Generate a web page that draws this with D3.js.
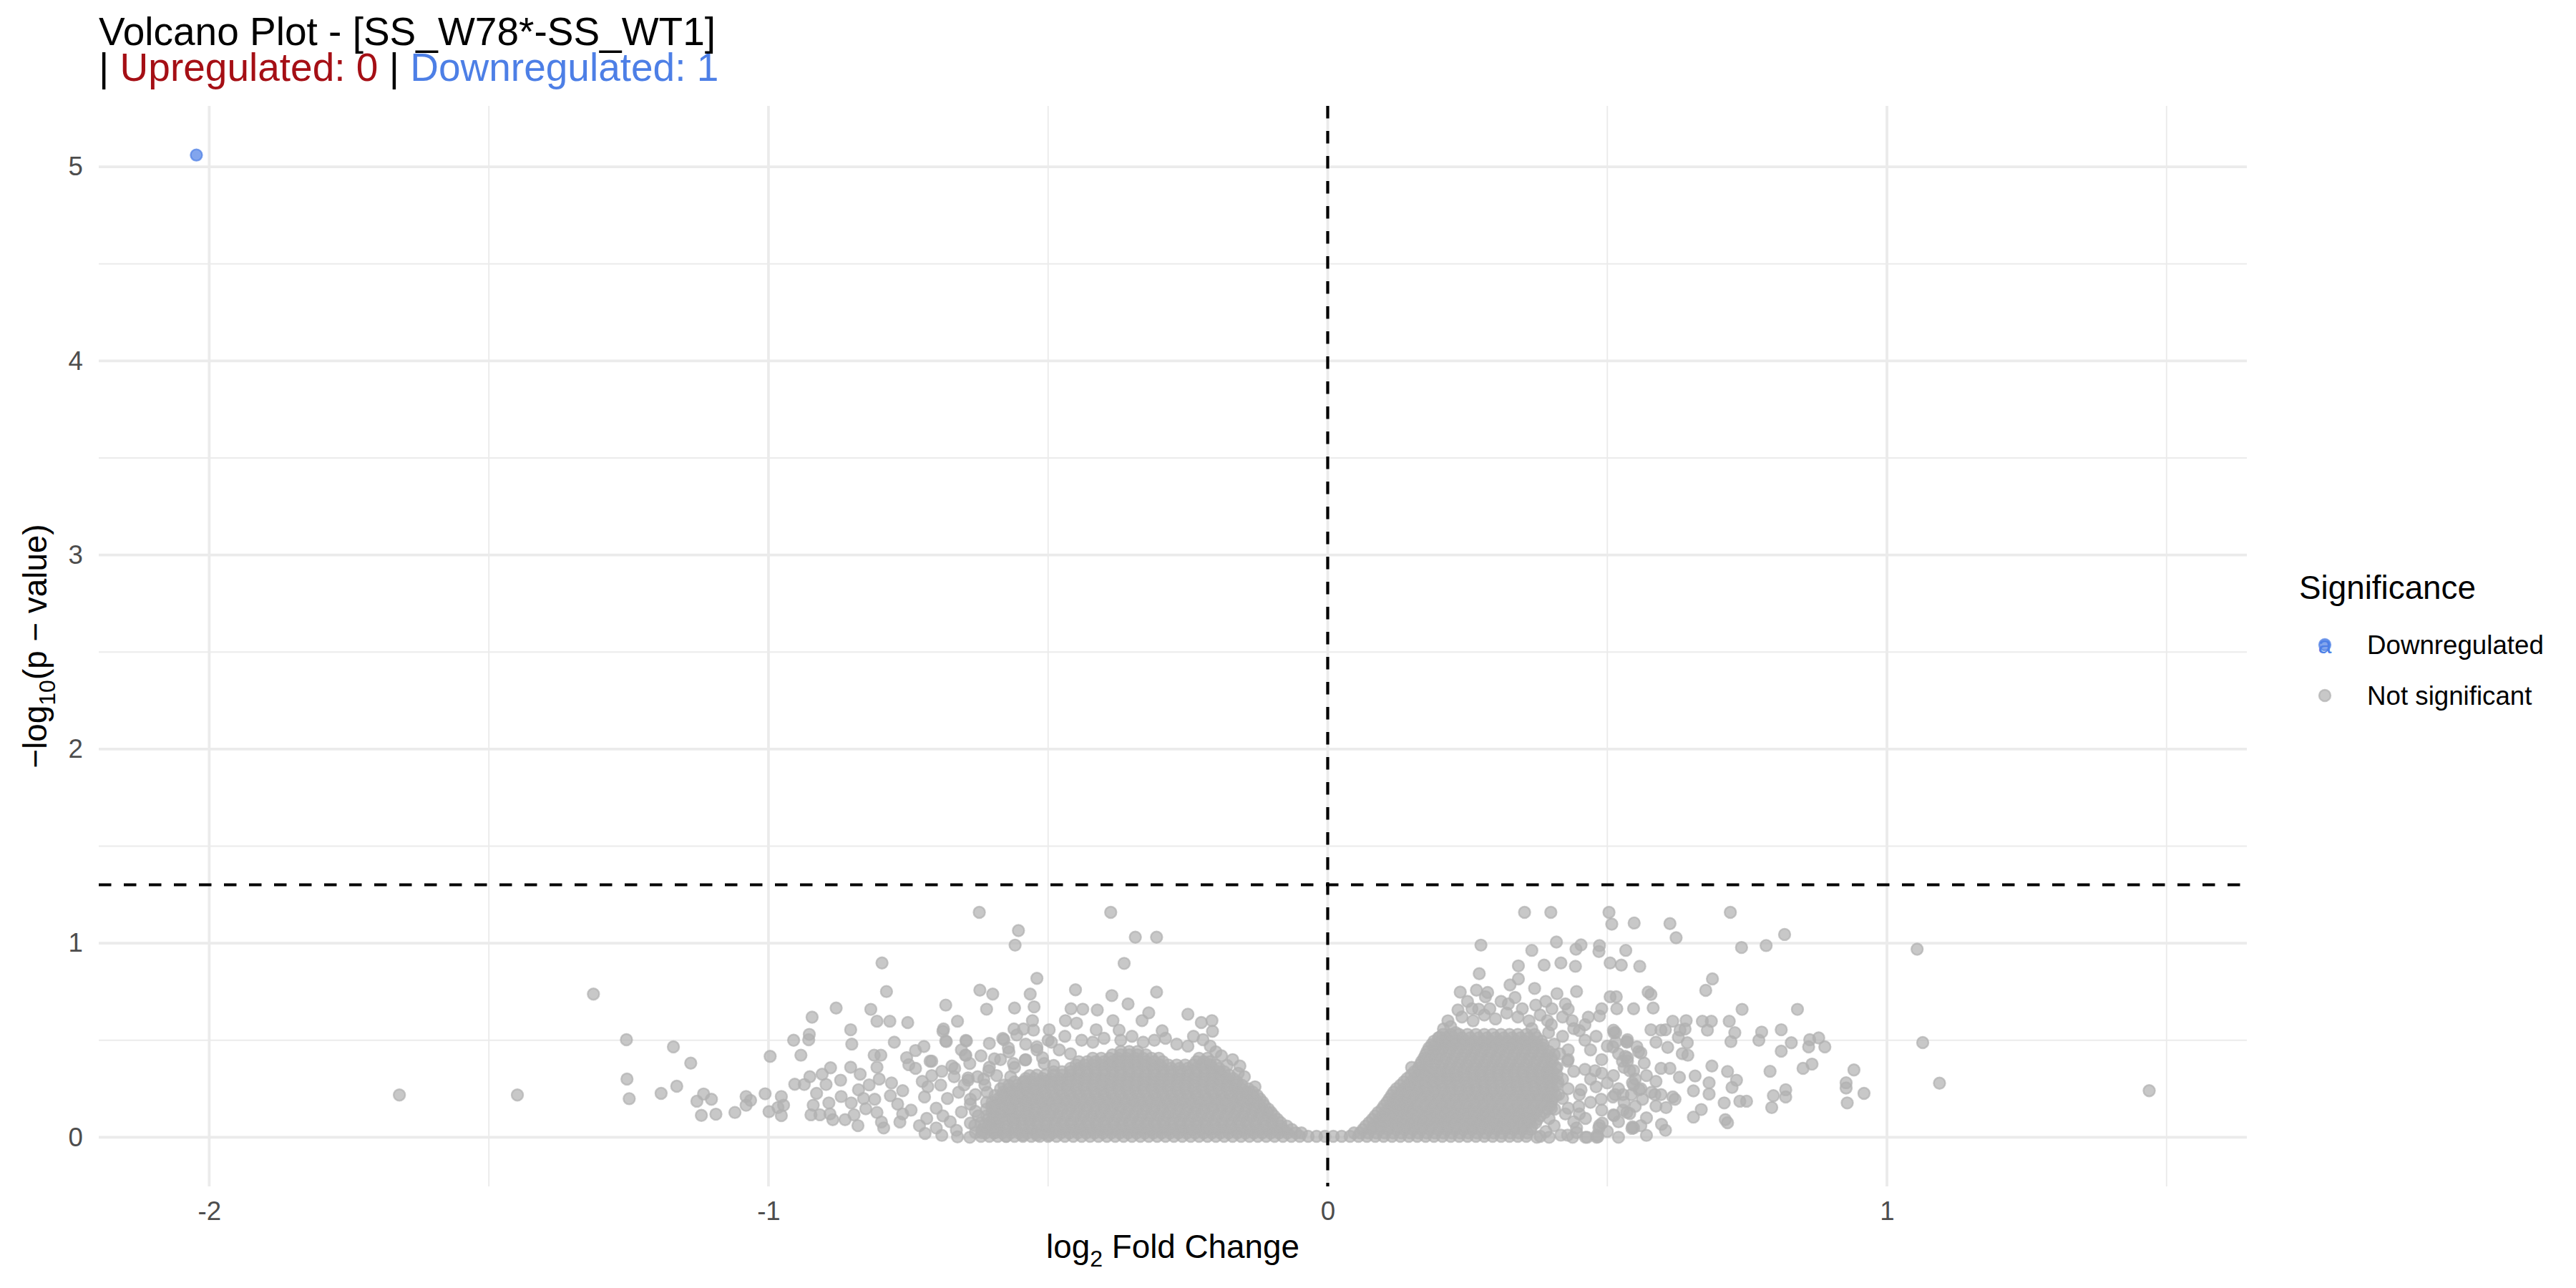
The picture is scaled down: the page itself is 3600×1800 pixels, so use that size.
<!DOCTYPE html>
<html>
<head>
<meta charset="utf-8">
<script src="https://cdn.jsdelivr.net/npm/d3@7"></script>
<style>
html,body{margin:0;padding:0;background:#fff;}
svg{display:block;font-family:"Liberation Sans",Arial,Helvetica,sans-serif;}
</style>
</head>
<body>
<svg id="chart" width="3600" height="1800"></svg>
<script>
// ---------------- DATA ----------------
const titleMain = "Volcano Plot - [SS_W78*-SS_WT1]";
const legendTitle = "Significance";
const legendLabels = ["Downregulated", "Not significant"];
const xTicks = [-2, -1, 0, 1];
const yTicks = [0, 1, 2, 3, 4, 5];
const xMinorTicks = [-1.5, -0.5, 0.5, 1.5];
const yMinorTicks = [0.5, 1.5, 2.5, 3.5, 4.5];
const pThreshold = 1.30103;   // -log10(0.05)
const fcThreshold = 0;

// significant genes [log2FC, -log10 p]
const upGenes = [];
const downGenes = [[-2.023, 5.061]];

// dense core of non-significant genes: [ -log10 p , [log2FC ...] ]
const nsDenseRows = [
 [0.005, [-0.62,-0.605,-0.59,-0.575,-0.56,-0.545,-0.53,-0.515,-0.5,-0.485,-0.47,-0.455,-0.44,-0.425,-0.41,-0.395,-0.38,-0.365,-0.35,-0.335,-0.32,-0.305,-0.29,-0.275,-0.26,-0.245,-0.23,-0.215,-0.2,-0.185,-0.17,-0.155,-0.14,-0.125,-0.11,-0.095,-0.08,-0.065,-0.05,-0.035,-0.02,-0.005,0.01,0.025,0.04,0.055,0.07,0.085,0.1,0.115,0.13,0.145,0.16,0.175,0.19,0.205,0.22,0.235,0.25,0.265,0.28,0.295,0.31,0.325,0.34,0.355]],
 [0.0225, [-0.612,-0.597,-0.582,-0.567,-0.552,-0.537,-0.522,-0.507,-0.492,-0.477,-0.462,-0.447,-0.432,-0.417,-0.402,-0.387,-0.372,-0.357,-0.342,-0.327,-0.312,-0.297,-0.282,-0.267,-0.252,-0.237,-0.222,-0.207,-0.192,-0.177,-0.162,-0.147,-0.132,-0.117,-0.102,-0.087,-0.072,-0.057,-0.047,0.047,0.058,0.072,0.087,0.102,0.117,0.132,0.147,0.162,0.177,0.192,0.207,0.222,0.237,0.252,0.267,0.282,0.297,0.312,0.327,0.342,0.357]],
 [0.04, [-0.618,-0.603,-0.588,-0.573,-0.558,-0.543,-0.528,-0.513,-0.498,-0.483,-0.469,-0.453,-0.438,-0.423,-0.408,-0.393,-0.378,-0.363,-0.348,-0.333,-0.318,-0.303,-0.288,-0.273,-0.258,-0.243,-0.228,-0.213,-0.198,-0.183,-0.168,-0.153,-0.138,-0.123,-0.108,-0.094,-0.079,-0.064,0.063,0.078,0.093,0.108,0.123,0.138,0.153,0.168,0.183,0.198,0.213,0.228,0.243,0.258,0.273,0.288,0.303,0.318,0.333,0.348,0.363]],
 [0.0575, [-0.607,-0.592,-0.577,-0.562,-0.547,-0.532,-0.517,-0.502,-0.487,-0.472,-0.457,-0.442,-0.427,-0.412,-0.397,-0.382,-0.367,-0.352,-0.337,-0.322,-0.307,-0.292,-0.277,-0.262,-0.247,-0.232,-0.217,-0.202,-0.187,-0.172,-0.157,-0.142,-0.127,-0.112,-0.097,-0.084,-0.073,0.068,0.081,0.095,0.11,0.125,0.14,0.155,0.17,0.185,0.2,0.215,0.23,0.245,0.26,0.275,0.29,0.305,0.32,0.335,0.35,0.365]],
 [0.075, [-0.62,-0.605,-0.59,-0.575,-0.56,-0.545,-0.533,-0.52,-0.505,-0.49,-0.475,-0.46,-0.445,-0.43,-0.415,-0.4,-0.385,-0.37,-0.355,-0.34,-0.325,-0.31,-0.295,-0.28,-0.265,-0.25,-0.235,-0.22,-0.205,-0.19,-0.175,-0.16,-0.145,-0.13,-0.115,-0.1,-0.084,0.074,0.088,0.102,0.117,0.132,0.147,0.162,0.177,0.192,0.207,0.222,0.237,0.252,0.267,0.282,0.297,0.312,0.327,0.342,0.357,0.372]],
 [0.0925, [-0.607,-0.592,-0.577,-0.562,-0.547,-0.532,-0.517,-0.502,-0.487,-0.472,-0.457,-0.442,-0.427,-0.412,-0.397,-0.382,-0.367,-0.352,-0.337,-0.322,-0.307,-0.292,-0.277,-0.262,-0.247,-0.232,-0.217,-0.202,-0.187,-0.172,-0.157,-0.142,-0.127,-0.112,-0.099,-0.09,0.08,0.093,0.107,0.122,0.137,0.152,0.167,0.182,0.197,0.212,0.227,0.242,0.257,0.272,0.287,0.302,0.317,0.332,0.347,0.362,0.375]],
 [0.11, [-0.61,-0.595,-0.58,-0.565,-0.55,-0.535,-0.524,-0.512,-0.497,-0.482,-0.467,-0.452,-0.437,-0.422,-0.407,-0.392,-0.377,-0.362,-0.347,-0.332,-0.317,-0.302,-0.287,-0.272,-0.257,-0.242,-0.227,-0.212,-0.197,-0.182,-0.167,-0.152,-0.137,-0.122,-0.108,-0.096,0.085,0.098,0.112,0.127,0.142,0.157,0.172,0.187,0.202,0.217,0.232,0.247,0.262,0.277,0.292,0.307,0.322,0.337,0.352,0.367,0.38]],
 [0.1275, [-0.6,-0.585,-0.57,-0.555,-0.54,-0.525,-0.51,-0.495,-0.48,-0.465,-0.45,-0.435,-0.42,-0.405,-0.39,-0.375,-0.36,-0.345,-0.33,-0.315,-0.3,-0.285,-0.27,-0.255,-0.24,-0.225,-0.21,-0.195,-0.18,-0.165,-0.15,-0.135,-0.12,-0.108,-0.101,0.09,0.103,0.117,0.132,0.147,0.162,0.177,0.192,0.207,0.222,0.237,0.252,0.267,0.282,0.297,0.312,0.327,0.342,0.357,0.372,0.388]],
 [0.145, [-0.61,-0.595,-0.58,-0.565,-0.55,-0.535,-0.52,-0.505,-0.49,-0.475,-0.46,-0.445,-0.43,-0.415,-0.4,-0.385,-0.37,-0.355,-0.34,-0.325,-0.31,-0.295,-0.28,-0.265,-0.25,-0.235,-0.22,-0.205,-0.19,-0.175,-0.16,-0.145,-0.13,-0.117,-0.106,0.097,0.11,0.124,0.138,0.152,0.167,0.182,0.197,0.212,0.227,0.242,0.257,0.272,0.287,0.302,0.317,0.332,0.347,0.362,0.377,0.392,0.406]],
 [0.1625, [-0.595,-0.58,-0.565,-0.55,-0.535,-0.52,-0.505,-0.49,-0.475,-0.46,-0.445,-0.43,-0.415,-0.4,-0.385,-0.37,-0.355,-0.34,-0.325,-0.31,-0.295,-0.28,-0.265,-0.25,-0.235,-0.22,-0.205,-0.19,-0.175,-0.16,-0.145,-0.132,-0.121,-0.113,0.101,0.114,0.128,0.143,0.158,0.173,0.188,0.203,0.218,0.233,0.248,0.263,0.278,0.293,0.308,0.323,0.338,0.353,0.368,0.383,0.398]],
 [0.18, [-0.6,-0.585,-0.57,-0.555,-0.54,-0.525,-0.512,-0.497,-0.482,-0.467,-0.452,-0.437,-0.422,-0.407,-0.392,-0.377,-0.362,-0.347,-0.332,-0.317,-0.302,-0.287,-0.272,-0.257,-0.242,-0.227,-0.212,-0.197,-0.182,-0.167,-0.152,-0.138,-0.126,-0.116,0.106,0.119,0.132,0.146,0.16,0.175,0.19,0.205,0.22,0.235,0.25,0.265,0.28,0.295,0.31,0.325,0.34,0.355,0.37,0.385,0.4]],
 [0.1975, [-0.59,-0.575,-0.56,-0.545,-0.53,-0.515,-0.5,-0.485,-0.47,-0.455,-0.44,-0.425,-0.41,-0.395,-0.38,-0.365,-0.35,-0.335,-0.32,-0.305,-0.29,-0.275,-0.26,-0.245,-0.23,-0.215,-0.2,-0.185,-0.17,-0.155,-0.141,-0.13,-0.121,0.11,0.123,0.137,0.152,0.167,0.182,0.197,0.212,0.227,0.242,0.257,0.272,0.287,0.302,0.317,0.332,0.347,0.362,0.377,0.392,0.402]],
 [0.215, [-0.595,-0.58,-0.565,-0.55,-0.535,-0.52,-0.505,-0.49,-0.475,-0.46,-0.445,-0.43,-0.415,-0.4,-0.385,-0.37,-0.355,-0.34,-0.325,-0.31,-0.295,-0.28,-0.265,-0.25,-0.235,-0.22,-0.205,-0.19,-0.175,-0.16,-0.146,-0.134,-0.126,0.114,0.127,0.14,0.154,0.168,0.183,0.198,0.213,0.228,0.243,0.258,0.273,0.288,0.303,0.318,0.333,0.348,0.363,0.378,0.393,0.408]],
 [0.2325, [-0.58,-0.565,-0.55,-0.535,-0.52,-0.505,-0.49,-0.475,-0.46,-0.445,-0.43,-0.415,-0.4,-0.385,-0.37,-0.355,-0.34,-0.325,-0.31,-0.295,-0.28,-0.265,-0.25,-0.235,-0.22,-0.205,-0.19,-0.175,-0.16,-0.145,-0.134,0.118,0.131,0.145,0.16,0.175,0.19,0.205,0.22,0.235,0.25,0.265,0.28,0.295,0.31,0.325,0.34,0.355,0.37,0.385,0.4]],
 [0.25, [-0.585,-0.57,-0.555,-0.54,-0.525,-0.51,-0.495,-0.48,-0.465,-0.45,-0.435,-0.42,-0.405,-0.39,-0.375,-0.36,-0.345,-0.33,-0.315,-0.3,-0.285,-0.27,-0.255,-0.24,-0.225,-0.21,-0.195,-0.18,-0.166,-0.154,-0.142,0.123,0.136,0.15,0.164,0.178,0.192,0.207,0.222,0.237,0.252,0.267,0.282,0.297,0.312,0.327,0.342,0.357,0.372,0.387,0.402]],
 [0.2675, [-0.57,-0.555,-0.54,-0.525,-0.51,-0.495,-0.48,-0.465,-0.45,-0.435,-0.42,-0.405,-0.39,-0.375,-0.36,-0.345,-0.33,-0.315,-0.3,-0.285,-0.27,-0.255,-0.24,-0.225,-0.21,-0.195,-0.18,-0.165,-0.153,0.13,0.143,0.157,0.172,0.187,0.202,0.217,0.232,0.247,0.262,0.277,0.292,0.307,0.322,0.337,0.352,0.367,0.382,0.397]],
 [0.285, [-0.56,-0.545,-0.53,-0.515,-0.502,-0.49,-0.475,-0.46,-0.445,-0.43,-0.415,-0.4,-0.385,-0.37,-0.355,-0.34,-0.325,-0.31,-0.295,-0.28,-0.265,-0.25,-0.235,-0.22,-0.205,-0.19,-0.176,-0.162,0.136,0.149,0.162,0.176,0.19,0.205,0.22,0.235,0.25,0.265,0.28,0.295,0.31,0.325,0.34,0.355,0.37,0.385,0.4,0.412]],
 [0.3025, [-0.54,-0.525,-0.51,-0.495,-0.48,-0.465,-0.45,-0.435,-0.42,-0.405,-0.39,-0.375,-0.36,-0.345,-0.33,-0.315,-0.3,-0.285,-0.27,-0.255,-0.24,-0.225,-0.21,-0.195,-0.18,-0.169,0.142,0.155,0.169,0.184,0.199,0.214,0.229,0.244,0.259,0.274,0.289,0.304,0.319,0.334,0.349,0.364,0.379,0.394,0.402]],
 [0.32, [-0.52,-0.505,-0.49,-0.475,-0.46,-0.445,-0.43,-0.415,-0.4,-0.385,-0.37,-0.355,-0.34,-0.325,-0.31,-0.295,-0.28,-0.265,-0.25,-0.235,-0.22,-0.205,-0.19,-0.176,0.149,0.162,0.176,0.19,0.204,0.218,0.232,0.247,0.262,0.277,0.292,0.307,0.322,0.337,0.352,0.367,0.382,0.397,0.41]],
 [0.3375, [-0.49,-0.475,-0.46,-0.445,-0.43,-0.415,-0.4,-0.385,-0.37,-0.355,-0.34,-0.325,-0.31,-0.295,-0.28,-0.265,-0.25,-0.235,-0.22,-0.207,-0.195,-0.185,0.155,0.168,0.182,0.197,0.212,0.227,0.242,0.257,0.272,0.287,0.302,0.317,0.332,0.347,0.362,0.377,0.392,0.402]],
 [0.355, [-0.46,-0.445,-0.43,-0.415,-0.4,-0.385,-0.37,-0.355,-0.34,-0.325,-0.31,-0.295,-0.28,-0.265,-0.25,-0.235,-0.22,-0.206,-0.194,0.162,0.174,0.188,0.202,0.216,0.23,0.245,0.26,0.275,0.29,0.305,0.32,0.335,0.35,0.365,0.38,0.395,0.408]],
 [0.3725, [-0.45,-0.435,-0.42,-0.405,-0.39,-0.375,-0.36,-0.345,-0.33,-0.315,-0.3,-0.285,-0.27,-0.255,-0.24,-0.225,-0.21,-0.2,0.165,0.177,0.19,0.204,0.219,0.234,0.249,0.264,0.279,0.294,0.309,0.324,0.339,0.354,0.369,0.384,0.398]],
 [0.39, [-0.445,-0.43,-0.415,-0.4,-0.385,-0.37,-0.355,-0.34,-0.325,-0.31,-0.295,-0.235,-0.222,-0.21,0.168,0.18,0.193,0.207,0.222,0.237,0.252,0.267,0.282,0.297,0.312,0.327,0.342,0.357,0.372,0.387,0.402]],
 [0.4075, [-0.42,-0.405,-0.39,-0.375,-0.36,-0.345,-0.33,-0.315,-0.302,-0.23,-0.215,0.172,0.184,0.197,0.211,0.226,0.241,0.256,0.271,0.286,0.301,0.316,0.331,0.346,0.361,0.376,0.391,0.4]],
 [0.425, [-0.385,-0.37,-0.355,-0.34,-0.325,0.175,0.187,0.2,0.214,0.228,0.243,0.258,0.273,0.288,0.303,0.318,0.333,0.348,0.363,0.378,0.393,0.405]],
 [0.4425, [-0.37,-0.355,-0.34,0.178,0.19,0.203,0.217,0.232,0.247,0.262,0.277,0.292,0.307,0.322,0.337,0.352,0.367,0.382,0.395]],
 [0.46, [0.181,0.193,0.206,0.22,0.235,0.25,0.265,0.28,0.295,0.31,0.325,0.34,0.355,0.37,0.385]],
 [0.4775, [0.186,0.198,0.211,0.225,0.24,0.255,0.27,0.285,0.3,0.315,0.33,0.345,0.36,0.375,0.385]],
 [0.495, [0.19,0.203,0.217,0.232,0.247,0.262,0.277,0.292,0.307,0.322,0.337,0.352,0.367,0.382]],
 [0.5125, [0.198,0.211,0.225,0.24,0.255,0.27,0.285,0.3,0.315,0.33,0.345,0.36,0.374]],
 [0.53, [0.206,0.22,0.235,0.25,0.265,0.28,0.295,0.31,0.325,0.34,0.355,0.37]]
];

// scattered non-significant genes [log2FC, -log10 p]
const nsScatter = [
 [-1.660,0.218],[-1.449,0.218],[-1.313,0.738],[-1.254,0.503],[-1.253,0.300],[-1.249,0.199],[-1.192,0.226],[-1.170,0.466],[-1.164,0.263],[-1.139,0.382],
 [-1.128,0.186],[-1.116,0.223],[-1.120,0.113],[-1.102,0.196],[-1.094,0.119],[-1.060,0.128],[-1.040,0.210],[-1.040,0.165],[-1.032,0.190],[-1.006,0.224],
 [-0.999,0.132],[-0.997,0.417],[-0.983,0.153],[-0.977,0.210],[-0.973,0.165],[-0.977,0.112],[-0.955,0.500],[-0.953,0.273],[-0.942,0.423],[-0.936,0.272],
 [-0.928,0.503],[-0.927,0.530],[-0.926,0.312],[-0.924,0.116],[-0.922,0.619],[-0.920,0.165],[-0.914,0.226],[-0.908,0.116],[-0.904,0.325],[-0.897,0.272],
 [-0.892,0.177],[-0.889,0.358],[-0.885,0.091],[-0.879,0.666],[-0.871,0.294],[-0.863,0.091],[-0.853,0.554],[-0.853,0.361],[-0.852,0.177],[-0.851,0.480],
 [-0.847,0.116],[-0.839,0.245],[-0.836,0.325],[-0.826,0.147],[-0.817,0.659],[-0.811,0.423],[-0.810,0.196],[-0.806,0.598],[-0.806,0.361],[-0.806,0.128],
 [-0.802,0.300],[-0.799,0.423],[-0.798,0.079],[-0.797,0.898],[-0.794,0.048],[-0.789,0.751],[-0.783,0.598],[-0.782,0.214],[-0.775,0.490],[-0.769,0.171],
 [-0.765,0.079],[-0.753,0.410],[-0.751,0.591],[-0.749,0.374],[-0.737,0.447],[-0.737,0.355],[-0.725,0.288],[-0.722,0.468],[-0.721,0.208],[-0.717,0.097],
 [-0.708,0.392],[-0.708,0.318],[-0.700,0.048],[-0.692,0.269],[-0.688,0.546],[-0.688,0.110],[-0.682,0.493],[-0.672,0.367],[-0.668,0.312],[-0.664,0.036],
 [-0.662,0.002],[-0.660,0.232],[-0.647,0.499],[-0.647,0.423],[-0.643,0.306],[-0.639,0.171],[-0.631,0.061],[-0.619,0.024],[-0.606,0.343],[-0.598,0.097],
 [-0.594,0.024],[-0.780,0.280],[-0.760,0.240],[-0.745,0.140],[-0.730,0.060],[-0.715,0.260],[-0.700,0.150],[-0.690,0.340],[-0.680,0.200],[-0.675,0.080],
 [-0.655,0.130],[-0.650,0.270],[-0.640,0.380],[-0.630,0.220],[-0.625,0.110],[-0.615,0.300],[-0.610,0.180],[-0.600,0.050],[-0.760,0.120],[-0.830,0.200],
 [-0.840,0.060],[-0.820,0.270],[-0.870,0.210],[-0.890,0.120],[-0.720,0.020],[-0.690,0.010],[-0.640,0.000],[-0.620,0.420],[-0.655,0.450],
 [-0.623,1.159],[-0.388,1.159],[-0.553,1.065],[-0.559,0.990],[-0.344,1.031],[-0.306,1.031],[-0.364,0.896],[-0.520,0.819],[-0.622,0.758],[-0.599,0.738],
 [-0.532,0.738],[-0.451,0.760],[-0.386,0.730],[-0.306,0.748],[-0.683,0.681],[-0.610,0.660],[-0.560,0.666],[-0.525,0.672],[-0.459,0.662],[-0.438,0.660],
 [-0.412,0.656],[-0.357,0.687],[-0.320,0.641],[-0.250,0.634],[-0.226,0.591],[-0.207,0.601],[-0.662,0.598],[-0.528,0.601],[-0.469,0.601],[-0.449,0.588],
 [-0.384,0.601],[-0.332,0.601],[-0.687,0.558],[-0.561,0.558],[-0.544,0.558],[-0.526,0.552],[-0.498,0.554],[-0.206,0.546],[-0.414,0.554],[-0.373,0.552],
 [-0.296,0.549],[-0.683,0.496],[-0.646,0.496],[-0.605,0.484],[-0.581,0.509],[-0.556,0.527],[-0.157,0.367],[-0.223,0.503],[-0.149,0.312],[-0.648,0.423],
 [-0.711,0.392],[-0.667,0.355],
 [-0.500,0.500],[-0.470,0.520],[-0.440,0.500],[-0.420,0.490],[-0.400,0.510],[-0.370,0.500],[-0.350,0.520],[-0.330,0.490],[-0.310,0.500],[-0.290,0.510],
 [-0.270,0.480],[-0.250,0.470],[-0.240,0.520],[-0.210,0.470],[-0.190,0.420],[-0.170,0.400],[-0.520,0.450],[-0.540,0.480],[-0.570,0.440],[-0.585,0.400],
 [-0.560,0.360],[-0.540,0.400],[-0.510,0.410],[-0.490,0.370],[-0.480,0.450],[-0.460,0.430],[-0.200,0.440],[-0.180,0.370],[-0.160,0.330],[-0.130,0.260],
 [-0.579,0.503],[-0.571,0.460],[-0.520,0.466],[-0.494,0.490],[-0.596,0.404],[-0.562,0.380],[-0.541,0.398],[-0.507,0.380],[-0.605,0.361],[-0.626,0.312],
 [-0.592,0.318],[-0.567,0.312],[-0.533,0.318],[-0.643,0.294],[-0.613,0.269],[-0.579,0.269],[-0.541,0.288],[-0.507,0.288],[-0.639,0.196],[-0.609,0.232],
 [-0.584,0.208],[-0.558,0.232],[-0.528,0.245],[-0.630,0.134],[-0.601,0.159],[-0.571,0.146],[-0.541,0.183],[-0.511,0.196],[-0.639,0.073],[-0.613,0.060],
 [-0.588,0.085],[-0.562,0.097],[-0.537,0.122],[-0.507,0.134],[-0.630,0.024],[-0.575,0.005],[-0.545,0.011],[-0.520,0.011],[-0.498,0.011],
 [0.352,1.159],[0.399,1.159],[0.503,1.159],[0.508,1.098],[0.548,1.104],[0.274,0.990],[0.365,0.963],[0.409,1.006],[0.444,0.969],[0.453,0.991],
 [0.486,0.988],[0.533,0.963],[0.341,0.883],[0.387,0.887],[0.417,0.898],[0.443,0.881],[0.505,0.898],[0.525,0.887],[0.558,0.881],[0.271,0.843],
 [0.341,0.816],[0.326,0.785],[0.370,0.767],[0.237,0.748],[0.266,0.758],[0.286,0.746],[0.282,0.724],[0.445,0.751],[0.505,0.724],[0.516,0.724],
 [0.233,0.656],[0.258,0.662],[0.290,0.662],[0.323,0.687],[0.348,0.662],[0.372,0.681],[0.401,0.662],[0.425,0.687],[0.490,0.662],[0.517,0.662],
 [0.547,0.662],[0.466,0.619],[0.486,0.625],[0.437,0.601],[0.393,0.601],[0.207,0.558],[0.229,0.539],[0.511,0.552],[0.535,0.490],[0.560,0.435],
 [0.527,0.392],[0.547,0.343],[0.511,0.318],[0.547,0.269],[0.514,0.220],[0.543,0.220],[0.563,0.196],[0.511,0.116],[0.535,0.128],[0.547,0.048],
 [0.486,0.061],[0.461,0.000],[0.482,0.011],[0.461,0.097],[0.449,0.159],[0.453,0.245],[0.478,0.343],[0.429,0.392],[0.413,0.220],[0.396,0.097],
 [0.380,0.005],[0.429,0.011],[0.445,0.048],
 [0.612,1.101],[0.623,1.028],[0.720,1.159],[0.817,1.045],[0.485,0.957],[0.740,0.978],[0.784,0.988],[1.054,0.969],[0.688,0.816],[0.676,0.757],
 [0.573,0.748],[0.578,0.736],[0.582,0.666],[0.741,0.659],[0.840,0.659],[0.617,0.598],[0.641,0.601],[0.670,0.598],[0.686,0.598],[0.718,0.598],
 [0.578,0.554],[0.604,0.554],[0.639,0.558],[0.679,0.552],[0.728,0.539],[0.776,0.542],[0.811,0.554],[0.512,0.539],[0.535,0.493],[0.587,0.490],
 [0.627,0.515],[0.643,0.487],[0.721,0.493],[0.771,0.500],[0.829,0.487],[0.862,0.503],[0.878,0.512],[0.889,0.466],[0.860,0.466],[0.811,0.444],
 [1.064,0.488],[0.556,0.441],[0.608,0.463],[0.634,0.431],[0.644,0.423],[0.536,0.410],[0.566,0.382],[0.612,0.355],[0.687,0.367],[0.629,0.309],
 [0.657,0.316],[0.715,0.339],[0.791,0.340],[0.850,0.355],[0.866,0.377],[0.941,0.347],[0.731,0.294],[0.682,0.281],[0.723,0.257],[0.654,0.239],
 [0.927,0.281],[0.927,0.254],[1.094,0.279],[0.819,0.245],[0.959,0.226],[1.469,0.240],[0.797,0.214],[0.819,0.208],[0.682,0.223],[0.621,0.196],
 [0.585,0.220],[0.709,0.177],[0.737,0.186],[0.749,0.186],[0.929,0.177],[0.794,0.153],[0.668,0.143],[0.587,0.161],[0.605,0.153],[0.654,0.104],
 [0.711,0.091],[0.715,0.075],[0.597,0.067],[0.604,0.036],[0.544,0.046],[0.512,0.112],[0.540,0.122],[0.491,0.073],[0.483,0.002],[0.464,0.000],
 [0.445,0.024],
 [0.450,0.550],[0.460,0.500],[0.470,0.450],[0.480,0.520],[0.490,0.400],[0.500,0.470],[0.460,0.350],[0.470,0.300],[0.480,0.260],[0.490,0.330],
 [0.500,0.280],[0.450,0.220],[0.470,0.180],[0.490,0.140],[0.450,0.120],[0.520,0.430],[0.530,0.360],[0.550,0.300],[0.520,0.250],[0.560,0.250],
 [0.530,0.180],[0.550,0.160],[0.520,0.080],[0.570,0.100],[0.560,0.060],[0.500,0.030],[0.520,0.000],[0.570,0.010],[0.430,0.450],[0.420,0.300],
 [0.430,0.150],[0.440,0.080],
 [0.596,0.552],[0.630,0.552],[0.536,0.503],[0.553,0.466],[0.536,0.392],[0.540,0.343],[0.515,0.490],[0.532,0.417],[0.570,0.318],[0.596,0.355],
 [0.587,0.288],[0.545,0.281],[0.557,0.245],[0.579,0.232],[0.596,0.220],[0.617,0.208],[0.528,0.220],[0.510,0.208],[0.489,0.196],[0.528,0.140],
 [0.545,0.054],[0.485,0.048],[0.481,0.000],[0.438,0.000],[0.374,0.000],[0.396,0.000],[0.417,0.011],[0.515,0.539],[0.510,0.466],
 [0.215,0.600],[0.240,0.620],[0.260,0.600],[0.280,0.630],[0.300,0.610],[0.320,0.640],[0.340,0.620],[0.360,0.600],[0.380,0.630],[0.400,0.580],
 [0.420,0.620],[0.440,0.560],[0.460,0.580],[0.250,0.700],[0.310,0.700],[0.335,0.720],[0.390,0.700],[0.410,0.740],[0.270,0.660],[0.430,0.660],
 [0.200,0.515],[0.190,0.470],[0.175,0.400],[0.150,0.360],[0.420,0.520],[0.430,0.400],[0.440,0.340],[0.410,0.270],[0.420,0.200],[0.400,0.150],
 [0.430,0.250],[0.395,0.540],[0.405,0.480],[0.415,0.430],[0.410,0.360],[0.425,0.120],[0.405,0.060],[0.390,0.030],[0.365,0.560],[0.220,0.570]
];

// ---------------- STYLE ----------------
const colUp = "#A50F15";
const colDown = "#4D7FE6";
const colNS = "#B0B0B0";
const ptR = 8.0, ptStroke = 2.4, ptAlpha = 0.7;

const W = 3600, H = 1800;
const P = {left: 138, right: 3140, top: 148, bottom: 1658};

const nsDense = nsDenseRows.flatMap(([yv, xs]) => xs.map(xv => [xv, yv]));
const nsAll = nsDense.concat(nsScatter);
const allPts = nsAll.concat(downGenes, upGenes);

const xExt = d3.extent(allPts, d => d[0]);
const yExt = d3.extent(allPts, d => d[1]);
const xPad = (xExt[1] - xExt[0]) * 0.05, yPad = (yExt[1] - yExt[0]) * 0.05;
const x = d3.scaleLinear().domain([xExt[0] - xPad, xExt[1] + xPad]).range([P.left, P.right]);
const y = d3.scaleLinear().domain([yExt[0] - yPad, yExt[1] + yPad]).range([P.bottom, P.top]);

const svg = d3.select("#chart");
svg.append("rect").attr("width", W).attr("height", H).attr("fill", "#fff");

// grid
const grid = svg.append("g");
grid.selectAll(".vmin").data(xMinorTicks).join("line")
  .attr("x1", d => x(d)).attr("x2", d => x(d)).attr("y1", P.top).attr("y2", P.bottom)
  .attr("stroke", "#EBEBEB").attr("stroke-width", 1.9);
grid.selectAll(".hmin").data(yMinorTicks).join("line")
  .attr("y1", d => y(d)).attr("y2", d => y(d)).attr("x1", P.left).attr("x2", P.right)
  .attr("stroke", "#EBEBEB").attr("stroke-width", 1.9);
grid.selectAll(".vmaj").data(xTicks).join("line")
  .attr("x1", d => x(d)).attr("x2", d => x(d)).attr("y1", P.top).attr("y2", P.bottom)
  .attr("stroke", "#EBEBEB").attr("stroke-width", 3.8);
grid.selectAll(".hmaj").data(yTicks).join("line")
  .attr("y1", d => y(d)).attr("y2", d => y(d)).attr("x1", P.left).attr("x2", P.right)
  .attr("stroke", "#EBEBEB").attr("stroke-width", 3.8);

// points
function drawPts(data, col) {
  svg.append("g").selectAll("circle").data(data).join("circle")
    .attr("cx", d => x(d[0])).attr("cy", d => y(d[1])).attr("r", ptR)
    .attr("fill", col).attr("fill-opacity", ptAlpha)
    .attr("stroke", col).attr("stroke-opacity", ptAlpha).attr("stroke-width", ptStroke);
}
drawPts(nsAll, colNS);
drawPts(downGenes, colDown);
drawPts(upGenes, colUp);

// threshold lines
svg.append("line").attr("x1", P.left).attr("x2", P.right)
  .attr("y1", y(pThreshold)).attr("y2", y(pThreshold))
  .attr("stroke", "#000").attr("stroke-width", 4.2).attr("stroke-dasharray", "17.5,17.5");
svg.append("line").attr("x1", x(fcThreshold)).attr("x2", x(fcThreshold))
  .attr("y1", P.top).attr("y2", P.bottom)
  .attr("stroke", "#000").attr("stroke-width", 4.2).attr("stroke-dasharray", "17.5,17.5");

// axes
const axFont = 36.7;
const xAxis = svg.append("g").attr("transform", `translate(0,${P.bottom})`)
  .call(d3.axisBottom(x).tickValues(xTicks).tickSize(0).tickPadding(21).tickFormat(d => String(d)));
xAxis.select(".domain").remove();
xAxis.selectAll("text").attr("font-size", axFont).attr("fill", "#4D4D4D")
  .attr("font-family", "Liberation Sans, Arial, sans-serif");
const yAxis = svg.append("g").attr("transform", `translate(${P.left},0)`)
  .call(d3.axisLeft(y).tickValues(yTicks).tickSize(0).tickPadding(22).tickFormat(d => String(d)));
yAxis.select(".domain").remove();
yAxis.selectAll("text").attr("font-size", axFont).attr("fill", "#4D4D4D")
  .attr("font-family", "Liberation Sans, Arial, sans-serif");

// axis titles
const tFont = 45.8;
const xt = svg.append("text").attr("x", (P.left + P.right) / 2).attr("y", 1758)
  .attr("text-anchor", "middle").attr("font-size", tFont).attr("fill", "#000");
xt.append("tspan").text("log");
xt.append("tspan").attr("font-size", tFont * 0.7).attr("dy", 12).text("2");
xt.append("tspan").attr("dy", -12).text(" Fold Change");

const yt = svg.append("text").attr("transform", `translate(65,${(P.top + P.bottom) / 2}) rotate(-90)`)
  .attr("text-anchor", "middle").attr("font-size", tFont).attr("fill", "#000");
yt.append("tspan").text("\u2212log");
yt.append("tspan").attr("font-size", tFont * 0.7).attr("dy", 12).text("10");
yt.append("tspan").attr("dy", -12).text("(p \u2212 value)");

// title (two lines in one text element)
const tt = svg.append("text").attr("x", P.left).attr("y", 63).attr("font-size", 55).attr("fill", "#000");
tt.append("tspan").attr("x", P.left).attr("y", 63).text(titleMain);
tt.append("tspan").attr("x", P.left).attr("y", 113).attr("fill", "#000").text("| ");
tt.append("tspan").attr("fill", colUp).text("Upregulated: " + upGenes.length);
tt.append("tspan").attr("fill", "#000").text(" | ");
tt.append("tspan").attr("fill", colDown).text("Downregulated: " + downGenes.length);

// legend
const lg = svg.append("g");
lg.append("text").attr("x", 3213).attr("y", 837).attr("font-size", tFont).attr("fill", "#000").text(legendTitle);
const keyY = [901, 972];
const keyCol = [colDown, colNS];
legendLabels.forEach((lab, i) => {
  lg.append("circle").attr("cx", 3249).attr("cy", keyY[i]).attr("r", ptR)
    .attr("fill", keyCol[i]).attr("fill-opacity", ptAlpha)
    .attr("stroke", keyCol[i]).attr("stroke-opacity", ptAlpha).attr("stroke-width", ptStroke);
  if (i === 0) {
    lg.append("text").attr("x", 3249).attr("y", keyY[i] + 12).attr("text-anchor", "middle")
      .attr("font-size", 34).attr("fill", colDown).text("a");
  }
  lg.append("text").attr("x", 3308).attr("y", keyY[i] + 12.5).attr("font-size", axFont)
    .attr("fill", "#000").text(lab);
});
</script>
</body>
</html>
